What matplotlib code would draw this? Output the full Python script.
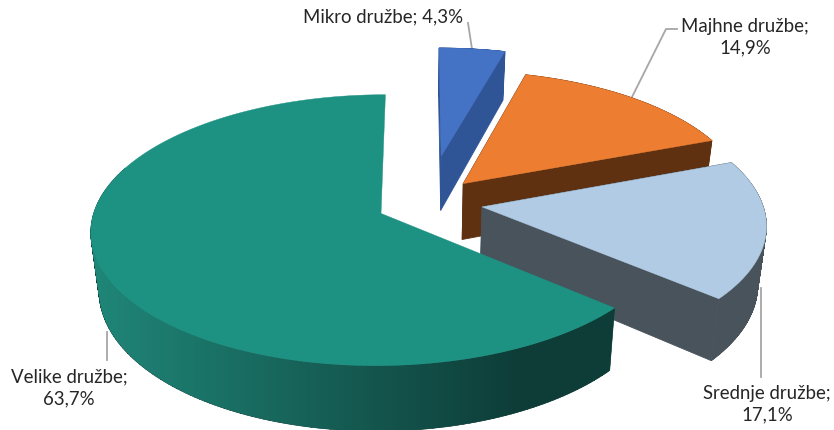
import numpy as np
import matplotlib
matplotlib.use("Agg")
import matplotlib.pyplot as plt
from matplotlib.colors import LinearSegmentedColormap
from matplotlib.patches import PathPatch
from matplotlib.path import Path

# Data
categories = ["Mikro družbe", "Majhne družbe", "Srednje družbe", "Velike družbe"]
shares = [4.3, 14.9, 17.1, 63.7]

# Styles
top_colors = ["#4472c4", "#ed7d31", "#b0cbe3", "#1d9282"]
cut_colors = ["#2f5597", "#5f3111", "#48535c", "#0e3d38"]
explode = [0.39, 0.22, 0.21, 0.15]
explode_turn = [3, 0, -6, 0]  # degrees
radius = [0.99, 0.98, 0.965, 0.98]
LEADER = "#a6a6a6"

# Projection of the tilted disc, in pixels
CX, CY = 421, 205
RX, RY = 291, 134
DEPTH = 57
PERSP = 0.125
SHRINK = 0.025


def project(x, y, z=0.0):
    w = 1 / (1 - PERSP * y)
    return CX + RX * x * w * (1 - SHRINK * z), CY + RY * y * w + DEPTH * z * w


def wall_path(tx, ty, bx, by):
    # union of quads, all wound the same way so that overlaps stay filled
    verts, codes = [], []
    for j in range(len(tx) - 1):
        q = [(tx[j], ty[j]), (tx[j + 1], ty[j + 1]), (bx[j + 1], by[j + 1]), (bx[j], by[j])]
        area = sum(q[k][0] * q[(k + 1) % 4][1] - q[(k + 1) % 4][0] * q[k][1] for k in range(4))
        if area < 0:
            q = q[::-1]
        verts += q + [q[0]]
        codes += [Path.MOVETO, Path.LINETO, Path.LINETO, Path.LINETO, Path.CLOSEPOLY]
    return Path(verts, codes)


fig = plt.figure(figsize=(8.34, 4.3), dpi=100)
ax = fig.add_axes([0, 0, 1, 1])

# Leader lines
leaders = [
    ([468, 472], [23, 49]),
    ([677, 666, 632], [29, 29, 97]),
    ([761, 761], [288, 377]),
    ([107, 107], [332, 360]),
]
for lx, ly in leaders:
    ax.plot(lx, ly, color=LEADER, lw=1.3, zorder=1)

wall_cmap = LinearSegmentedColormap.from_list("wall", ["#1f8577", "#0e3d38"])

# Slices, back to front, clockwise from 12 o'clock
edges = np.concatenate([[0], np.cumsum(shares)]) / np.sum(shares) * 2 * np.pi
for i in range(len(shares)):
    a0, a1 = edges[i], edges[i + 1]
    mid = (a0 + a1) / 2 + np.radians(explode_turn[i])
    ox, oy = explode[i] * np.sin(mid), -explode[i] * np.cos(mid)
    t = np.linspace(a0, a1, 200)
    x = ox + radius[i] * np.sin(t)
    y = oy - radius[i] * np.cos(t)
    z0 = 10 + i * 3

    # cut faces, the big slice hides its own
    if i < 3:
        for ex, ey in [(x[0], y[0]), (x[-1], y[-1])]:
            px, py = project(np.array([ox, ex, ex, ox]), np.array([oy, ey, ey, oy]), np.array([0, 0, 1, 1]))
            ax.fill(px, py, color=cut_colors[i], lw=0.6, zorder=z0)

    # outer wall, the rear part of the big slice stays out of sight
    keep = y > -0.3 if i == 3 else np.ones_like(y, dtype=bool)
    tx, ty = project(x[keep], y[keep], 0)
    bx, by = project(x[keep], y[keep], 1)
    wall = PathPatch(wall_path(tx, ty, bx, by), facecolor=cut_colors[i], edgecolor=cut_colors[i], lw=0.4, zorder=z0 + 1)
    ax.add_patch(wall)
    if i == 3:
        # shading of the big slice runs left to right
        grad = np.clip((np.linspace(60, 640, 400) - 100) / 420, 0, 1)[None, :]
        im = ax.imshow(grad, extent=(60, 640, 431, 200), cmap=wall_cmap, aspect="auto", zorder=z0 + 1)
        im.set_clip_path(wall)

    # top face
    fx, fy = project(x, y, 0)
    cx_, cy_ = project(ox, oy, 0)
    ax.fill(np.r_[cx_, fx], np.r_[cy_, fy], color=top_colors[i], lw=0.3, zorder=z0 + 2)

# Labels
pct = [f"{v:.1f}".replace(".", ",") + "%" for v in shares]
label_kw = dict(family="Lato", fontsize=13.4, color="#262626", ha="center", va="center", linespacing=1.35, zorder=40)
ax.text(383, 17, f"{categories[0]}; {pct[0]}", **label_kw)
ax.text(745, 37, f"{categories[1]};\n{pct[1]}", **label_kw)
ax.text(767, 404, f"{categories[2]};\n{pct[2]}", **label_kw)
ax.text(69, 388, f"{categories[3]};\n{pct[3]}", **label_kw)

ax.set_xlim(0, 834)
ax.set_ylim(430, 0)
ax.axis("off")

fig.savefig("out.png", dpi=100)
